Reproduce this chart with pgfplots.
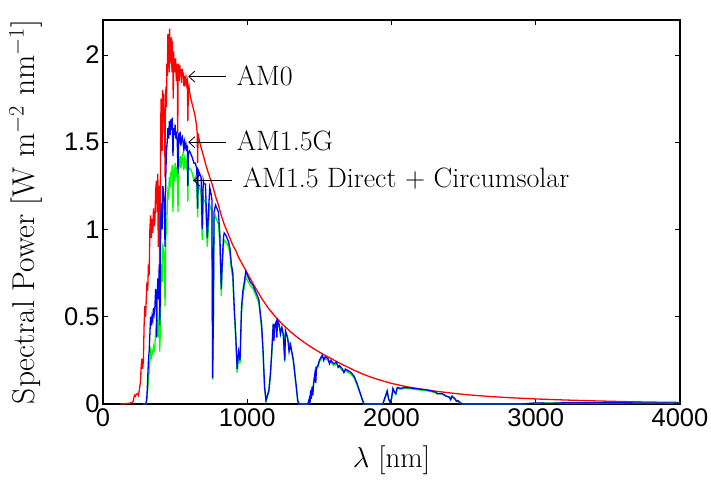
\RequirePackage{fix-cm}
\documentclass[border=0pt]{standalone}
\usepackage{fontspec}
\usepackage{pgfplots}
\usepackage{pgfplotstable}
\pgfplotsset{compat=1.18}
\usetikzlibrary{arrows.meta}
\newfontfamily\tickfont{Liberation Sans}

\pgfplotstableread{
x y
120 0
150 0.002
180 0.004
200 0.008
210 0.015
215 0.04
220 0.05
225 0.045
230 0.055
240 0.06
245 0.05
250 0.07
255 0.1
260 0.13
265 0.22
270 0.26
275 0.2
280 0.25
285 0.45
290 0.56
295 0.5
300 0.6
305 0.7
310 0.65
315 0.8
320 0.74
325 1.0
330 1.08
335 0.95
340 1.06
345 0.98
350 1.12
355 1.02
360 1.05
365 1.22
370 1.28
375 1.1
380 1.32
383 0.9
387 1.2
390 1.25
393 0.6
397 0.85
400 1.6
403 1.75
406 1.5
410 1.45
413 1.8
416 1.7
420 1.78
423 1.55
427 1.7
430 1.3
433 1.75
437 1.82
440 1.7
443 1.95
446 1.88
450 2.12
453 2.0
456 2.08
459 1.9
462 2.15
465 1.95
468 2.1
471 2.02
475 2.1
478 1.9
481 2.08
484 1.95
487 1.75
490 2.02
493 1.9
496 1.98
500 1.9
504 1.98
508 1.85
512 1.95
516 1.82
518 1.55
521 1.9
525 1.95
529 1.85
533 1.94
537 1.88
541 1.92
545 1.84
549 1.92
553 1.87
557 1.9
561 1.82
565 1.88
570 1.84
575 1.87
580 1.83
585 1.85
588 1.62
592 1.8
596 1.82
600 1.79
606 1.76
612 1.74
618 1.72
624 1.7
630 1.68
636 1.66
642 1.63
648 1.6
653 1.55
656 1.38
659 1.55
665 1.52
670 1.5
680 1.47
690 1.44
700 1.41
720 1.35
740 1.3
760 1.25
780 1.19
800 1.14
820 1.08
840 1.03
860 0.99
880 0.95
900 0.91
920 0.88
940 0.84
960 0.81
980 0.78
1000 0.75
1050 0.675
1100 0.605
1150 0.545
1200 0.495
1250 0.452
1300 0.414
1350 0.38
1400 0.35
1450 0.322
1500 0.297
1550 0.274
1600 0.252
1650 0.23
1700 0.21
1750 0.19
1800 0.172
1850 0.156
1900 0.142
1950 0.13
2000 0.118
2100 0.1
2200 0.086
2300 0.074
2400 0.064
2500 0.055
2600 0.048
2700 0.042
2800 0.037
2900 0.033
3000 0.029
3200 0.023
3400 0.018
3600 0.014
3800 0.011
4000 0.009
}\amzero

\pgfplotstableread{
x y
280 0
295 0
300 0.005
305 0.03
310 0.08
315 0.14
320 0.18
325 0.24
330 0.3
335 0.27
340 0.3
345 0.29
350 0.33
355 0.31
360 0.34
365 0.42
370 0.45
375 0.39
380 0.48
385 0.38
390 0.52
393 0.3
397 0.4
400 0.75
405 0.8
410 0.7
415 0.9
420 0.88
425 0.85
430 0.56
435 0.95
440 1.0
445 1.1
450 1.22
455 1.2
460 1.3
465 1.24
470 1.33
475 1.3
480 1.37
485 1.1
490 1.32
495 1.3
500 1.38
505 1.3
510 1.36
515 1.3
520 1.1
525 1.4
530 1.38
535 1.42
540 1.35
545 1.4
550 1.42
555 1.38
560 1.34
565 1.4
570 1.37
575 1.4
580 1.36
585 1.38
588 1.16
592 1.34
600 1.35
610 1.34
620 1.32
630 1.28
640 1.3
650 1.25
656 1.07
660 1.25
670 1.24
680 1.2
688 0.94
695 1.18
700 1.16
710 1.17
723 0.9
730 1.0
740 1.14
750 1.12
755 1.1
760 0.14
765 0.45
770 1.05
780 1.08
790 1.05
800 1.03
810 0.92
820 0.62
827 0.79
835 0.9
840 0.94
850 0.93
860 0.92
870 0.9
880 0.86
890 0.77
900 0.72
910 0.52
920 0.38
930 0.18
940 0.28
950 0.23
960 0.52
970 0.62
980 0.67
990 0.73
1000 0.71
1020 0.68
1040 0.66
1060 0.62
1080 0.58
1100 0.43
1110 0.28
1120 0.09
1130 0.015
1140 0.04
1150 0.07
1160 0.15
1170 0.28
1180 0.44
1190 0.43
1200 0.45
1210 0.46
1220 0.44
1240 0.43
1250 0.39
1260 0.24
1265 0.41
1280 0.37
1300 0.33
1320 0.24
1340 0.09
1350 0.015
1360 0
1420 0
1430 0.025
1440 0.07
1450 0.09
1460 0.11
1470 0.17
1480 0.2
1490 0.21
1500 0.24
1520 0.27
1540 0.26
1560 0.25
1580 0.24
1600 0.22
1620 0.23
1640 0.21
1660 0.19
1680 0.19
1700 0.18
1720 0.17
1740 0.15
1760 0.11
1780 0.065
1800 0.015
1810 0
1940 0
1960 0.045
1970 0.07
1980 0.028
1990 0.01
2000 0.028
2010 0.085
2020 0.065
2030 0.055
2040 0.09
2060 0.085
2100 0.09
2150 0.085
2200 0.08
2250 0.075
2300 0.066
2350 0.056
2400 0.037
2420 0.042
2440 0.028
2460 0.013
2480 0.004
2500 0
2900 0
2950 0.003
3000 0.005
3500 0.006
4000 0.005
}\amdirect

\pgfplotstableread{
x y
280 0
295 0
300 0.01
305 0.05
310 0.15
315 0.25
320 0.3
325 0.4
330 0.5
335 0.45
340 0.5
345 0.48
350 0.55
355 0.52
360 0.56
365 0.66
370 0.6
372 0.38
375 0.6
380 0.72
385 0.6
390 0.8
393 0.45
397 0.6
400 1.05
405 1.15
410 1.0
415 1.25
420 1.2
425 1.15
430 0.9
435 1.3
440 1.45
445 1.5
450 1.58
455 1.52
460 1.62
465 1.54
470 1.63
475 1.57
480 1.64
485 1.42
490 1.58
495 1.54
500 1.6
505 1.52
510 1.56
515 1.5
520 1.32
525 1.55
530 1.52
535 1.56
540 1.48
545 1.52
550 1.53
555 1.5
560 1.46
565 1.5
570 1.47
575 1.49
580 1.46
585 1.47
588 1.25
592 1.44
600 1.45
610 1.43
620 1.41
630 1.38
640 1.38
650 1.35
656 1.12
660 1.34
670 1.32
680 1.3
688 1.0
695 1.28
700 1.26
710 1.26
723 0.95
730 1.08
740 1.24
750 1.2
755 1.17
760 0.15
765 0.5
770 1.1
780 1.14
790 1.12
800 1.1
810 0.97
820 0.66
827 0.82
835 0.95
840 0.98
850 0.97
860 0.95
870 0.93
880 0.89
890 0.8
900 0.75
910 0.55
920 0.4
930 0.2
940 0.3
950 0.25
960 0.55
970 0.65
980 0.7
990 0.76
1000 0.74
1020 0.7
1040 0.68
1060 0.64
1080 0.6
1100 0.45
1110 0.3
1120 0.1
1130 0.02
1140 0.05
1150 0.08
1160 0.17
1170 0.3
1180 0.46
1185 0.36
1190 0.45
1200 0.47
1205 0.38
1210 0.48
1220 0.46
1230 0.4
1240 0.44
1250 0.4
1260 0.25
1265 0.42
1280 0.38
1290 0.3
1300 0.34
1320 0.25
1340 0.1
1350 0.02
1360 0
1420 0
1430 0.03
1435 0.005
1440 0.08
1445 0.03
1450 0.1
1455 0.05
1460 0.12
1470 0.18
1475 0.12
1480 0.21
1490 0.22
1500 0.25
1520 0.28
1530 0.25
1540 0.27
1560 0.26
1570 0.23
1580 0.25
1600 0.23
1620 0.24
1630 0.21
1640 0.22
1660 0.2
1670 0.18
1680 0.2
1700 0.19
1720 0.18
1740 0.16
1760 0.12
1780 0.07
1800 0.02
1810 0
1940 0
1960 0.05
1970 0.075
1980 0.03
1990 0.01
2000 0.03
2010 0.09
2020 0.07
2030 0.06
2040 0.095
2060 0.09
2100 0.095
2150 0.09
2200 0.085
2250 0.08
2300 0.07
2320 0.058
2350 0.06
2380 0.045
2400 0.04
2410 0.025
2420 0.045
2440 0.03
2450 0.015
2460 0.02
2480 0.005
2500 0
2900 0
2950 0.003
3000 0.006
3100 0.004
3200 0.007
3500 0.007
4000 0.005
}\amglobal

\begin{document}
\begin{tikzpicture}
\path[use as bounding box] (-103pt,-75pt) rectangle (608pt,404pt);
\begin{axis}[
  scale only axis,
  width=577pt, height=384pt,
  xmin=0, xmax=4000, ymin=0, ymax=2.2,
  xtick={0,1000,2000,3000,4000},
  ytick={0,0.5,1,1.5,2},
  tick align=inside,
  major tick length=5pt,
  every tick/.style={black, line width=0.8pt},
  axis line style={line width=1.2pt},
  /pgf/number format/assume math mode=true,
  /pgf/number format/1000 sep={},
  ticklabel style={font=\tickfont\fontsize{25.5}{30}\selectfont},
  xticklabel style={yshift=-1.5pt},
  xlabel={$\lambda$\ [nm]},
  ylabel={Spectral Power [W m$^{-2}$ nm$^{-1}$]},
  every axis x label/.style={at={(rel axis cs:0.5,0)}, anchor=base, yshift=-63pt, font=\fontsize{29}{35}\selectfont},
  every axis y label/.style={at={(rel axis cs:0,0.5)}, anchor=base, rotate=90, yshift=68pt, font=\fontsize{31.5}{37}\selectfont},
  clip=true,
]
\addplot[color=red, line width=1.3pt] table {\amzero};
\addplot[color=green, line width=1.3pt] table {\amdirect};
\addplot[color=blue, line width=1.3pt] table {\amglobal};
\draw[-{Straight Barb[length=6pt,width=11pt]}, line width=0.8pt] (axis cs:852,1.876) -- (axis cs:591,1.876);
\draw[-{Straight Barb[length=6pt,width=11pt]}, line width=0.8pt] (axis cs:852,1.500) -- (axis cs:591,1.500);
\draw[-{Straight Barb[length=6pt,width=11pt]}, line width=0.8pt] (axis cs:892,1.281) -- (axis cs:626,1.281);
\node[anchor=west, inner sep=0pt, font=\fontsize{28}{34}\selectfont] at (axis cs:926,1.882) {AM0};
\node[anchor=west, inner sep=0pt, font=\fontsize{28}{34}\selectfont] at (axis cs:926,1.509) {AM1.5G};
\node[anchor=west, inner sep=0pt, font=\fontsize{28}{34}\selectfont] at (axis cs:968,1.291) {AM1.5 Direct $+$ Circumsolar};
\end{axis}
\end{tikzpicture}
\end{document}
